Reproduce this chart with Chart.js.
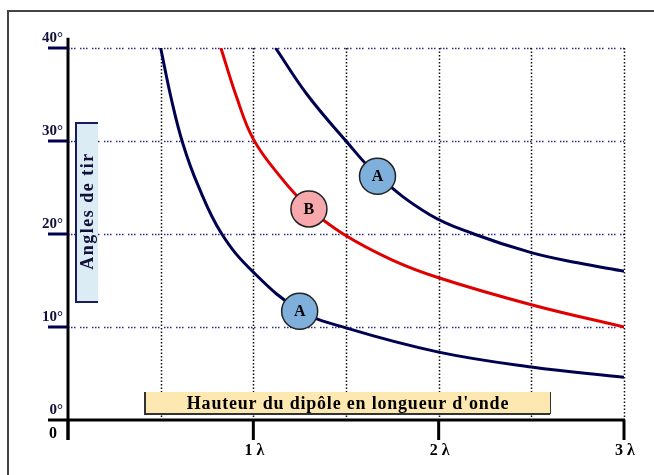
<!DOCTYPE html>
<html>
<head>
<meta charset="utf-8">
<script src="https://cdn.jsdelivr.net/npm/chart.js@4/dist/chart.umd.min.js"></script>
<style>
  html, body { margin: 0; padding: 0; background: #fff; }
  canvas { display: block; }
</style>
</head>
<body>
<canvas id="chart" width="654" height="475"></canvas>
<script>
// hauteur du dipôle (en λ) et angle de tir (en degrés)
const heightsA1 = [0.5, 0.56, 0.62, 0.7, 0.83, 1.0, 1.25, 1.5, 2.0, 2.5, 3.0];
const anglesA1 = [40, 34.3, 29.7, 25.3, 20, 15.9, 11.8, 9.9, 7.3, 5.7, 4.6];

const heightsB = [0.825, 0.91, 1.0, 1.144, 1.3, 1.485, 1.75, 2.0, 2.5, 3.0];
const anglesB = [40, 34.7, 30.2, 26.2, 22.8, 20, 17.2, 15.3, 12.4, 10];

const heightsA2 = [1.12, 1.29, 1.5, 1.67, 1.95, 2.19, 2.5, 2.75, 3.0];
const anglesA2 = [40, 35.0, 30, 26.3, 22.1, 20, 18.0, 16.9, 16];

const markerHeights = [1.25, 1.3, 1.67];
const markerAngles = [11.7, 22.7, 26.2];
const markerLabels = ['A', 'B', 'A'];
const markerColors = ['#7fb0dc', '#f7a8ac', '#7fb0dc'];

const xGrid = [0.5, 1, 1.5, 2, 2.5, 3];
const yGrid = [10, 20, 30, 40];
const yTicks = [0, 10, 20, 30, 40];
const xTicks = [0, 1, 2, 3];
const xTickLabels = ['0', '1 λ', '2 λ', '3 λ'];

const yTitle = 'Angles de tir';
const xTitle = 'Hauteur du dipôle en longueur d\'onde';

const NAVY = '#000050';
const SERIF = '"Liberation Serif", "DejaVu Serif", serif';

function toPoints(xs, ys) {
  return xs.map((x, i) => ({ x: x, y: ys[i] }));
}

const backdrop = {
  id: 'backdrop',
  beforeDatasetsDraw(chart) {
    const ctx = chart.ctx;
    const x = chart.scales.x;
    const y = chart.scales.y;
    const left = x.getPixelForValue(0);
    const right = x.getPixelForValue(3);
    const top = y.getPixelForValue(40);
    const bottom = y.getPixelForValue(0);
    ctx.save();

    // cadre
    ctx.strokeStyle = '#444';
    ctx.lineWidth = 2;
    ctx.beginPath();
    ctx.moveTo(8, 480);
    ctx.lineTo(8, 11);
    ctx.lineTo(660, 11);
    ctx.stroke();

    // grille horizontale
    ctx.strokeStyle = '#2a2a80';
    ctx.lineWidth = 1.5;
    ctx.setLineDash([1.5, 1.5, 1.5, 1.5, 1.5, 4.5]);
    for (const v of yGrid) {
      const py = Math.round(y.getPixelForValue(v)) + 0.5;
      ctx.beginPath();
      ctx.moveTo(left, py);
      ctx.lineTo(right, py);
      ctx.stroke();
    }
    // grille verticale
    ctx.strokeStyle = '#111';
    ctx.setLineDash([1.5, 2]);
    for (const v of xGrid) {
      const px = Math.round(x.getPixelForValue(v)) + 0.5;
      ctx.beginPath();
      ctx.moveTo(px, top);
      ctx.lineTo(px, bottom);
      ctx.stroke();
    }
    ctx.setLineDash([]);

    // boîte titre axe Y
    ctx.fillStyle = '#dcecf4';
    ctx.fillRect(76, 123, 22, 179);
    ctx.strokeStyle = '#1a1a60';
    ctx.lineWidth = 2;
    ctx.beginPath();
    ctx.moveTo(98, 123);
    ctx.lineTo(76, 123);
    ctx.lineTo(76, 302);
    ctx.lineTo(98, 302);
    ctx.stroke();
    ctx.save();
    ctx.translate(88, 211);
    ctx.rotate(-Math.PI / 2);
    ctx.fillStyle = '#10103a';
    ctx.font = 'bold 18px ' + SERIF;
    ctx.letterSpacing = '1.5px';
    ctx.textAlign = 'center';
    ctx.textBaseline = 'middle';
    ctx.fillText(yTitle, 0, 0);
    ctx.restore();

    // boîte titre axe X
    ctx.fillStyle = '#fde8b2';
    ctx.fillRect(145, 392, 405, 22);
    ctx.strokeStyle = '#333';
    ctx.lineWidth = 2;
    ctx.beginPath();
    ctx.moveTo(145, 392);
    ctx.lineTo(145, 414);
    ctx.lineTo(550, 414);
    ctx.stroke();
    ctx.lineWidth = 1;
    ctx.beginPath();
    ctx.moveTo(550.5, 392);
    ctx.lineTo(550.5, 414);
    ctx.stroke();
    ctx.fillStyle = '#000';
    ctx.font = 'bold 18px ' + SERIF;
    ctx.letterSpacing = '0.8px';
    ctx.textAlign = 'center';
    ctx.textBaseline = 'middle';
    ctx.fillText(xTitle, 348, 404);
    ctx.letterSpacing = '0px';

    ctx.restore();
  },
  afterDatasetsDraw(chart) {
    const ctx = chart.ctx;
    const x = chart.scales.x;
    const y = chart.scales.y;
    const left = x.getPixelForValue(0);
    const right = x.getPixelForValue(3);
    const bottom = y.getPixelForValue(0);
    ctx.save();

    // lettres dans les pastilles
    ctx.fillStyle = '#000';
    ctx.font = 'bold 16px ' + SERIF;
    ctx.textAlign = 'center';
    ctx.textBaseline = 'middle';
    markerLabels.forEach((t, i) => {
      ctx.fillText(t, x.getPixelForValue(markerHeights[i]), y.getPixelForValue(markerAngles[i]) + 1);
    });

    // axes
    ctx.strokeStyle = '#000';
    ctx.lineWidth = 3;
    ctx.beginPath();
    ctx.moveTo(left, y.getPixelForValue(41.1));
    ctx.lineTo(left, bottom + 20);
    ctx.moveTo(left - 20, bottom);
    ctx.lineTo(right + 1, bottom);
    ctx.stroke();

    // graduations Y
    ctx.strokeStyle = NAVY;
    ctx.font = 'bold 15px ' + SERIF;
    ctx.textAlign = 'right';
    ctx.textBaseline = 'bottom';
    ctx.fillStyle = '#10103a';
    for (const v of yTicks) {
      const py = y.getPixelForValue(v);
      if (v > 0) {
        ctx.beginPath();
        ctx.moveTo(left - 20, py);
        ctx.lineTo(left, py);
        ctx.stroke();
      }
      ctx.fillText(v + '°', left - 5, py - 2);
    }

    // graduations X
    ctx.strokeStyle = '#000';
    ctx.fillStyle = '#000';
    ctx.font = 'bold 16px ' + SERIF;
    ctx.textAlign = 'center';
    ctx.textBaseline = 'middle';
    xTicks.forEach((v, i) => {
      const px = x.getPixelForValue(v);
      ctx.beginPath();
      ctx.moveTo(px, bottom);
      ctx.lineTo(px, bottom + 20);
      ctx.stroke();
      if (v === 0) {
        ctx.fillText(xTickLabels[i], px - 15, bottom + 14);
      } else {
        ctx.fillText(xTickLabels[i], px + 1, bottom + 31);
      }
    });

    ctx.restore();
  }
};

const lineStyle = {
  borderWidth: 3,
  pointRadius: 0,
  fill: false,
  tension: 0.4,
  order: 2
};

new Chart(document.getElementById('chart'), {
  type: 'line',
  data: {
    datasets: [
      Object.assign({ label: 'A', data: toPoints(heightsA1, anglesA1), borderColor: NAVY }, lineStyle),
      Object.assign({ label: 'B', data: toPoints(heightsB, anglesB), borderColor: '#e00000' }, lineStyle),
      Object.assign({ label: 'A', data: toPoints(heightsA2, anglesA2), borderColor: NAVY }, lineStyle),
      {
        type: 'scatter',
        label: 'repères',
        data: toPoints(markerHeights, markerAngles),
        pointRadius: 18,
        pointBackgroundColor: markerColors,
        pointBorderColor: '#222',
        pointBorderWidth: 1.5,
        order: 0
      }
    ]
  },
  options: {
    responsive: false,
    animation: false,
    devicePixelRatio: 1,
    layout: { padding: { left: 68, right: 30, top: 48, bottom: 55 } },
    scales: {
      x: { type: 'linear', min: 0, max: 3, display: false },
      y: { type: 'linear', min: 0, max: 40, display: false }
    },
    plugins: {
      legend: { display: false },
      tooltip: { enabled: false }
    }
  },
  plugins: [backdrop]
});
</script>
</body>
</html>
